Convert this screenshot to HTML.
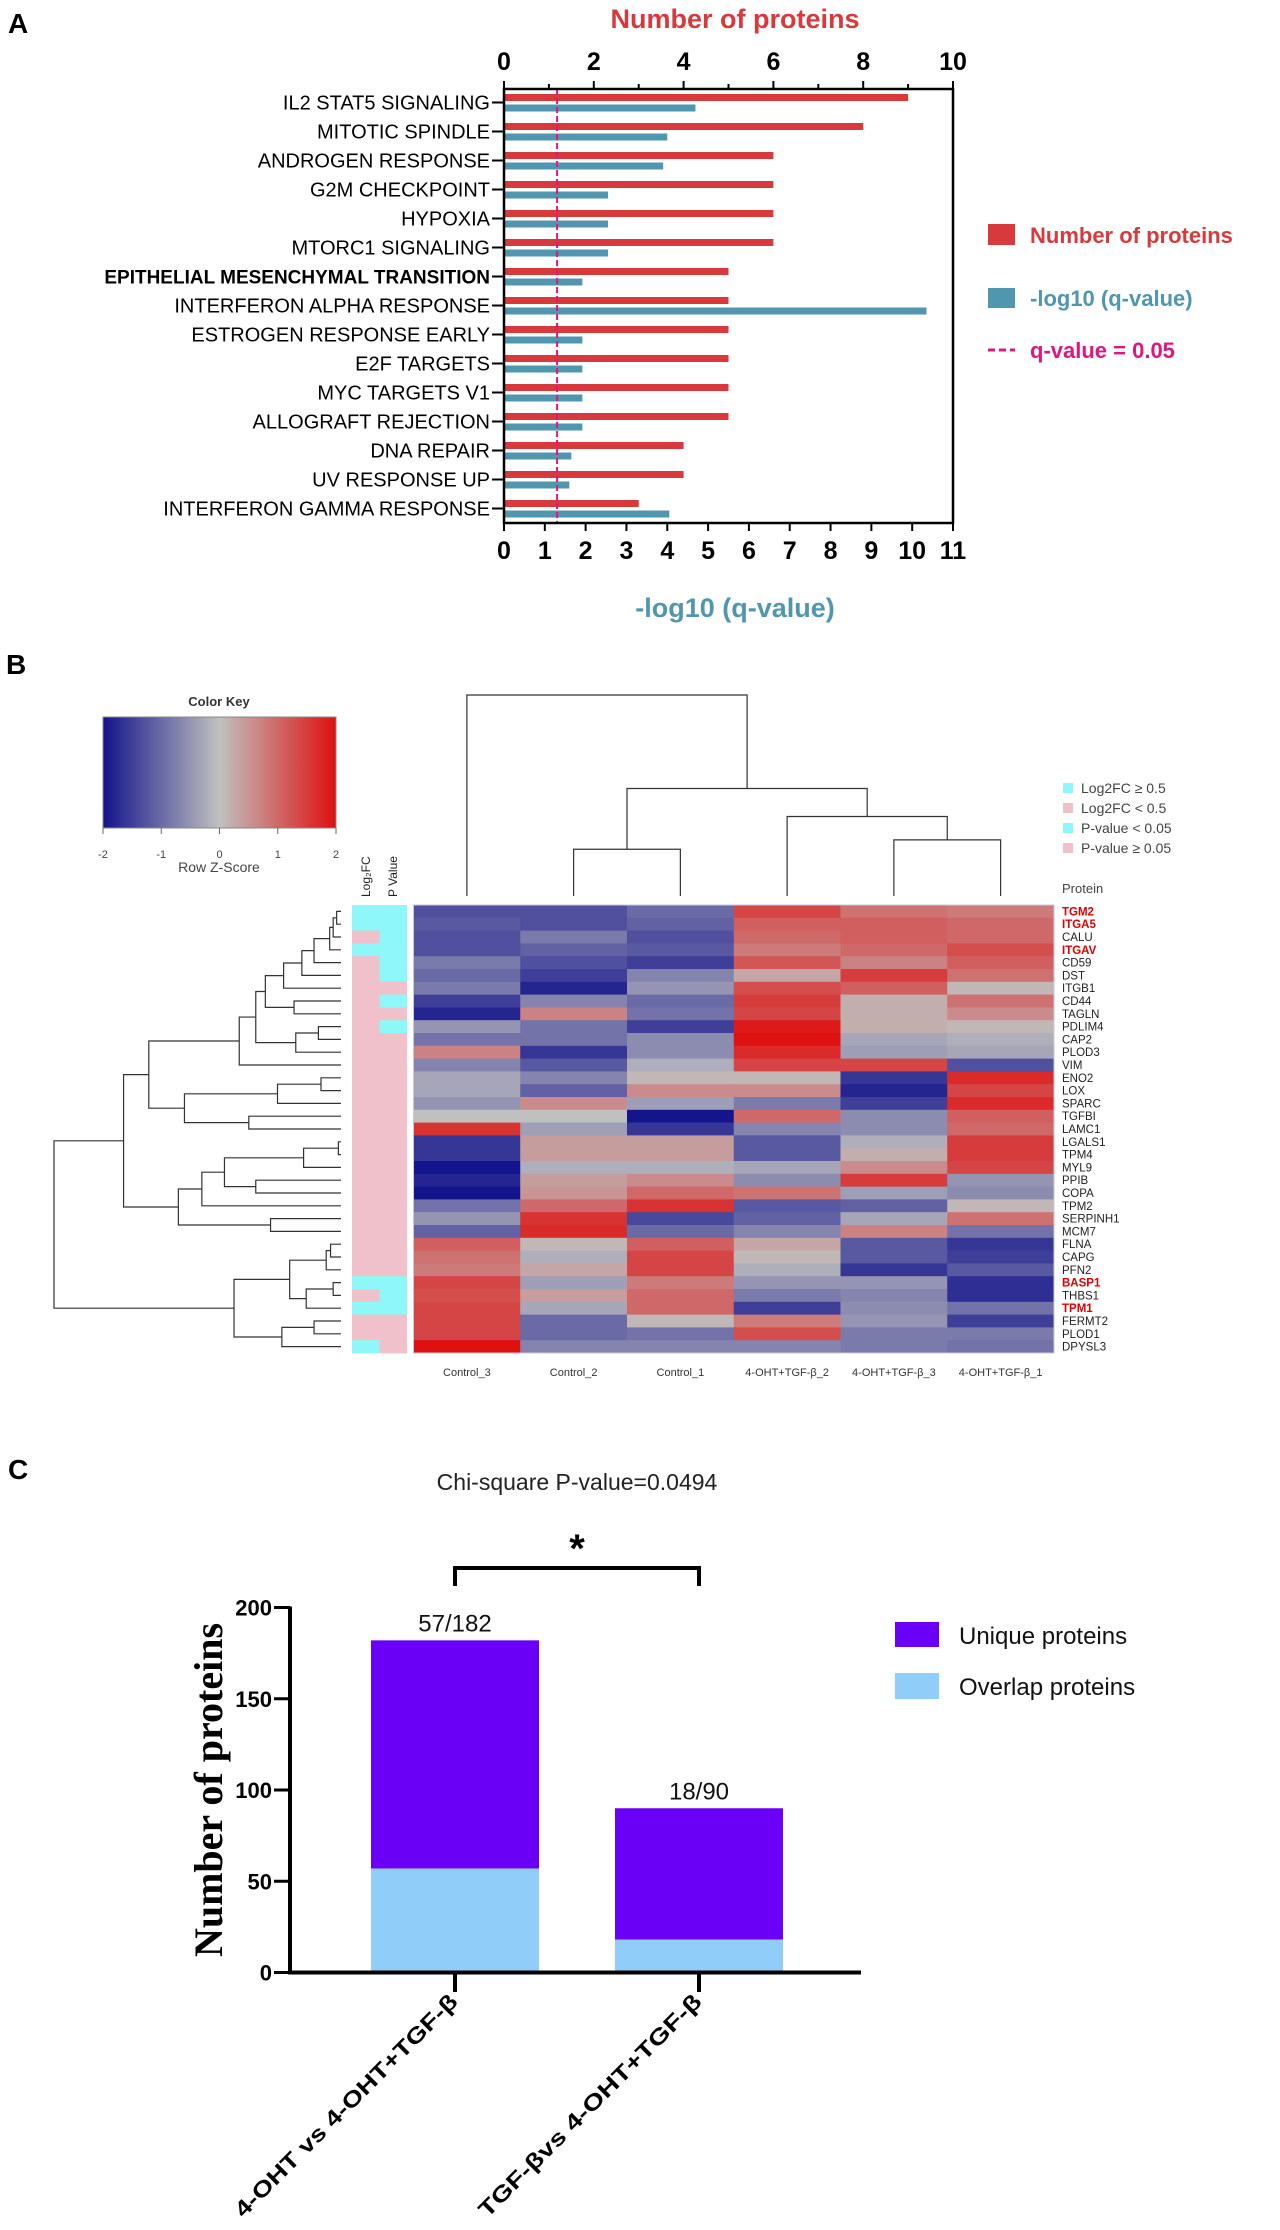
<!DOCTYPE html>
<html><head><meta charset="utf-8">
<style>
html,body{margin:0;padding:0;background:#fff;}
svg{display:block;font-family:"Liberation Sans",Arial,sans-serif;}
</style></head>
<body>
<svg id="fig" width="1280" height="2230" viewBox="0 0 1280 2230" xmlns="http://www.w3.org/2000/svg">
<g id="pA"></g>
<g id="pB"></g>
<g id="pC"></g>
</svg>
<script>
// ---------- Panel A data ----------
const aCategories = ["IL2 STAT5 SIGNALING","MITOTIC SPINDLE","ANDROGEN RESPONSE","G2M CHECKPOINT","HYPOXIA","MTORC1 SIGNALING","EPITHELIAL MESENCHYMAL TRANSITION","INTERFERON ALPHA RESPONSE","ESTROGEN RESPONSE EARLY","E2F TARGETS","MYC TARGETS V1","ALLOGRAFT REJECTION","DNA REPAIR","UV RESPONSE UP","INTERFERON GAMMA RESPONSE"];
const aProteins = [9,8,6,6,6,6,5,5,5,5,5,5,4,4,3];
const aLogQ = [4.69,4.0,3.9,2.55,2.55,2.55,1.92,10.35,1.92,1.92,1.92,1.92,1.65,1.6,4.05];
const aTopTicks = [0,2,4,6,8,10];
const aBottomTicks = [0,1,2,3,4,5,6,7,8,9,10,11];
const aThreshold = 1.30103;

// ---------- Panel B data ----------
const bRows = ["TGM2","ITGA5","CALU","ITGAV","CD59","DST","ITGB1","CD44","TAGLN","PDLIM4","CAP2","PLOD3","VIM","ENO2","LOX","SPARC","TGFBI","LAMC1","LGALS1","TPM4","MYL9","PPIB","COPA","TPM2","SERPINH1","MCM7","FLNA","CAPG","PFN2","BASP1","THBS1","TPM1","FERMT2","PLOD1","DPYSL3"];
const bHighlight = ["TGM2","ITGA5","ITGAV","BASP1","TPM1"];
const bCols = ["Control_3","Control_2","Control_1","4-OHT+TGF-β_2","4-OHT+TGF-β_3","4-OHT+TGF-β_1"];
const bZ = [
[-1.3,-1.3,-1.0,1.4,0.9,0.8],
[-1.2,-1.3,-1.1,1.1,1.1,1.0],
[-1.3,-0.8,-1.3,1.0,1.1,1.0],
[-1.3,-1.1,-1.2,0.8,1.0,1.3],
[-0.8,-1.3,-1.5,1.2,0.7,1.1],
[-1.0,-1.5,-0.7,0.3,1.5,0.9],
[-0.8,-1.8,-0.5,1.3,1.1,0.1],
[-1.5,-0.7,-1.0,1.5,0.2,0.9],
[-1.8,0.7,-0.9,1.4,0.2,0.6],
[-0.5,-0.9,-1.5,1.9,0.2,0.1],
[-0.9,-0.9,-0.6,2.0,-0.3,-0.2],
[0.7,-1.6,-0.6,1.7,-0.4,-0.3],
[-0.7,-1.2,-0.2,1.4,1.4,-1.3],
[-0.3,-0.7,0.1,0.1,-1.6,1.7],
[-0.3,-1.1,0.6,0.6,-1.8,1.4],
[-0.5,0.6,-0.4,-0.8,-1.5,1.7],
[0.0,0.0,-2.0,1.0,-0.6,1.1],
[1.6,-0.4,-1.6,-0.7,-0.6,1.0],
[-1.6,0.4,0.4,-1.2,-0.2,1.5],
[-1.6,0.4,0.4,-1.2,0.2,1.5],
[-2.0,-0.2,-0.2,-0.3,0.6,1.4],
[-1.8,0.4,0.6,-0.6,1.5,-0.5],
[-2.0,0.5,1.0,0.9,-0.4,-0.6],
[-0.9,1.0,1.6,-1.2,-1.1,0.1],
[-0.5,1.6,-1.4,-1.1,-0.3,0.9],
[-1.1,1.7,-1.0,-0.7,0.7,-0.9],
[1.1,0.1,1.1,0.3,-1.2,-1.6],
[0.9,-0.2,1.4,0.1,-1.2,-1.5],
[0.8,0.3,1.4,-0.2,-1.6,-1.2],
[1.4,-0.4,0.8,-0.5,-0.5,-1.7],
[1.3,0.4,1.0,-0.8,-0.7,-1.7],
[1.4,-0.3,1.0,-1.5,-0.6,-0.9],
[1.4,-1.0,0.1,0.8,-0.5,-1.5],
[1.4,-1.0,-0.9,1.3,-0.8,-0.8],
[2.0,-0.7,-0.7,-0.7,-0.8,-0.9]];
const bLogFC = [1,1,0,1,0,0,0,0,0,0,0,0,0,0,0,0,0,0,0,0,0,0,0,0,0,0,0,0,0,1,0,1,0,0,1];
const bPval  = [1,1,1,1,1,1,0,1,0,1,0,0,0,0,0,0,0,0,0,0,0,0,0,0,0,0,0,0,0,1,1,1,0,0,0];
const bKeyTicks = [-2,-1,0,1,2];
// row dendrogram merges: [left, right, height]
const bG1 = [[[[[[[[[0,1,0.5],2,0.9],3,1.3],4,3.1],5,4.5],6,6.6],[7,8,5.4],8.7],[[9,10,2.6],11,5.2],9.8],12,11.7];
const bG2 = [[[13,14,2.3],15,7.3],[16,17,10.6],18];
const bG3 = [[[[[18,19,0.3],20,4.3],[21,22,9.8],13.4],23,16],[24,25,8.1],18.7];
const bG4 = [[[[26,27,1.2],28,1.7],[[29,30,0.9],31,4],5.9],[[32,33,3.1],34,6.8],12.3];
const bRowTree = [[[bG1,bG2,22.1],bG3,25],bG4,33];
const bColTree = [0,[[1,2,1],[3,[4,5,1.2],1.7],2.3],4.3];

// ---------- Panel C data ----------
const cGroups = ["4-OHT vs 4-OHT+TGF-β","TGF-βvs 4-OHT+TGF-β"];
const cOverlap = [57,18];
const cTotal = [182,90];
const cYTicks = [0,50,100,150,200];

const NS="http://www.w3.org/2000/svg";
function mk(parent,tag,attrs,text){const e=document.createElementNS(NS,tag);for(const k in attrs)e.setAttribute(k,attrs[k]);if(text!==undefined)e.textContent=text;parent.appendChild(e);return e;}

// ================= PANEL A =================
(function(){
const g=document.getElementById('pA');
const L=504,R=953,T=89,B=523;
const xTop=v=>L+(R-L)*v/10;
const xBot=v=>L+(R-L)*v/11;
const step=29.0, y0=94;
const RED="#d8393c", TEAL="#4f96ae", MAG="#e0157f";
let t=mk(g,'text',{x:8,y:33,'font-size':28,'font-weight':'bold'},'A');

t=mk(g,'text',{x:735,y:28,'font-size':27,'font-weight':'bold',fill:RED,'text-anchor':'middle'},'Number of proteins');

t=mk(g,'text',{x:735,y:617,'font-size':27,'font-weight':'bold',fill:TEAL,'text-anchor':'middle'},'-log10 (q-value)');

aCategories.forEach((c,i)=>{
  const yr=y0+i*step;
  let r=mk(g,'rect',{x:L,y:yr,width:xTop(aProteins[i])-L,height:7,fill:RED});
  
  r=mk(g,'rect',{x:L,y:yr+10.5,width:xBot(aLogQ[i])-L,height:7,fill:TEAL});
  
  const yc=yr+8.5;
  mk(g,'line',{x1:492,x2:L,y1:yc,y2:yc,stroke:'#000','stroke-width':2});
  const bold=c.startsWith('EPITHELIAL');
  let tx=mk(g,'text',{x:490,y:yc+7,'font-size':bold?19:20,'font-weight':bold?'bold':'normal','text-anchor':'end'},c);
  
});
let ln=mk(g,'line',{x1:xBot(aThreshold),x2:xBot(aThreshold),y1:T,y2:B,stroke:MAG,'stroke-width':2,'stroke-dasharray':'6,3'});

mk(g,'rect',{x:L,y:T,width:R-L,height:B-T,fill:'none',stroke:'#000','stroke-width':2.5});
for(let v=0;v<=10;v++){mk(g,'line',{x1:xTop(v),x2:xTop(v),y1:T,y2:T-(v%2?5:8),stroke:'#000','stroke-width':2});}
aTopTicks.forEach(v=>{let tt=mk(g,'text',{x:xTop(v),y:70,'font-size':25,'font-weight':'bold','text-anchor':'middle'},String(v));});
aBottomTicks.forEach(v=>{mk(g,'line',{x1:xBot(v),x2:xBot(v),y1:B,y2:B+8,stroke:'#000','stroke-width':2});
  let tt=mk(g,'text',{x:xBot(v),y:559,'font-size':25,'font-weight':'bold','text-anchor':'middle'},String(v));});
let lg=mk(g,'g',{});
mk(lg,'rect',{x:988,y:224,width:27,height:21,fill:RED});
mk(lg,'text',{x:1030,y:243,'font-size':22,'font-weight':'bold',fill:RED},'Number of proteins');
mk(lg,'rect',{x:988,y:288,width:27,height:20,fill:TEAL});
mk(lg,'text',{x:1030,y:306,'font-size':22,'font-weight':'bold',fill:TEAL},'-log10 (q-value)');
mk(lg,'line',{x1:988,x2:1015,y1:350,y2:350,stroke:MAG,'stroke-width':3,'stroke-dasharray':'7,4'});
mk(lg,'text',{x:1030,y:358,'font-size':22,'font-weight':'bold',fill:MAG},'q-value = 0.05');
})();

// ================= PANEL B =================
(function(){
const g=document.getElementById('pB');
const HX=413.5,HR=1054,HT=905,HB=1353;
const cw=(HR-HX)/bCols.length, rh=(HB-HT)/bRows.length;
const colX=j=>HX+j*cw, rowY=i=>HT+i*rh;
function zc(z){z=Math.max(-2,Math.min(2,z));let a,b,t;
  const lo=[20,20,140],mid=[192,192,192],hi=[222,16,16];
  if(z<0){a=lo;b=mid;t=(z+2)/2;}else{a=mid;b=hi;t=z/2;}
  return 'rgb('+a.map((v,k)=>Math.round(v+(b[k]-v)*t)).join(',')+')';}
let t=mk(g,'text',{x:6,y:674,'font-size':28,'font-weight':'bold'},'B');

const KL=103,KR=336,KT=717,KB=828;
const kx=v=>KL+(KR-KL)*(v+2)/4;
const defs=mk(g,'defs',{});const gr=mk(defs,'linearGradient',{id:'kg',x1:0,x2:1,y1:0,y2:0});
for(let s=0;s<=8;s++){mk(gr,'stop',{offset:s/8,'stop-color':zc(-2+s*0.5)});}
let kk=mk(g,'rect',{x:KL,y:KT,width:KR-KL,height:KB-KT,fill:'url(#kg)',stroke:'#888','stroke-width':1});

mk(g,'text',{x:219,y:706,'font-size':13,'font-weight':'bold','text-anchor':'middle',fill:'#333'},'Color Key');
bKeyTicks.forEach(v=>{mk(g,'line',{x1:kx(v),x2:kx(v),y1:KB,y2:KB+6,stroke:'#666'});
 let tt=mk(g,'text',{x:kx(v),y:858,'font-size':11,'text-anchor':'middle',fill:'#444'},String(v));});
mk(g,'text',{x:219,y:872,'font-size':14,'text-anchor':'middle',fill:'#444'},'Row Z-Score');
const CY="#8ef7fa",PK="#f0c0cb";
bRows.forEach((r,i)=>{
  let a=mk(g,'rect',{x:352,y:rowY(i),width:27.5,height:rh+0.4,fill:bLogFC[i]?CY:PK});
  
  a=mk(g,'rect',{x:379.5,y:rowY(i),width:27.5,height:rh+0.4,fill:bPval[i]?CY:PK});
  
});
mk(g,'text',{transform:'translate(370,897) rotate(-90)','font-size':12,fill:'#222'},'Log₂FC');
mk(g,'text',{transform:'translate(397,897) rotate(-90)','font-size':12,fill:'#222'},'P Value');
bRows.forEach((r,i)=>{
  bZ[i].forEach((z,j)=>{
    let c=mk(g,'rect',{x:colX(j),y:rowY(i),width:cw+0.4,height:rh+0.4,fill:zc(z)});
    
  });
  const hl=bHighlight.includes(r);
  let tt=mk(g,'text',{x:1062,y:rowY(i)+rh/2+4,'font-size':11.5,'font-weight':hl?'bold':'normal',fill:hl?'#e00000':'#222'},r);
  
});
mk(g,'rect',{x:HX,y:HT,width:HR-HX,height:HB-HT,fill:'none',stroke:'#c8c8d8','stroke-width':1});
bCols.forEach((c,j)=>{let tt=mk(g,'text',{x:colX(j)+cw/2,y:1376,'font-size':11,'text-anchor':'middle',fill:'#333'},c);});
mk(g,'text',{x:1062,y:893,'font-size':13,fill:'#444'},'Protein');
const lgItems=[["Log2FC ≥ 0.5",CY],["Log2FC < 0.5",PK],["P-value < 0.05",CY],["P-value ≥ 0.05",PK]];
lgItems.forEach((it,k)=>{const y=788+k*20;
  let s=mk(g,'rect',{x:1063,y:y-5,width:10,height:10,fill:it[1]});
  let tt=mk(g,'text',{x:1081,y:y+5,'font-size':14,fill:'#444'},it[0]);});
const leafX=341, maxH=33, rootX=54;
const hx=h=>leafX-(leafX-rootX)*h/maxH;
function drawRow(node){
  if(typeof node==='number') return {y:rowY(node)+rh/2,x:leafX};
  const a=drawRow(node[0]),b=drawRow(node[1]);
  const x=hx(node[2]);
  const p=mk(g,'path',{d:`M${a.x},${a.y}H${x}V${b.y}H${b.x}`,fill:'none',stroke:'#333','stroke-width':1.2});
  
  return {x:x,y:(a.y+b.y)/2};
}
drawRow(bRowTree);
const leafY=896, colMax=4.3, topY=695;
const hy=h=>leafY-(leafY-topY)*h/colMax;
function drawCol(node){
  if(typeof node==='number') return {x:colX(node)+cw/2,y:leafY};
  const a=drawCol(node[0]),b=drawCol(node[1]);const y=hy(node[2]);
  const p=mk(g,'path',{d:`M${a.x},${a.y}V${y}H${b.x}V${b.y}`,fill:'none',stroke:'#333','stroke-width':1.2});
  
  return {x:(a.x+b.x)/2,y:y};
}
drawCol(bColTree);
})();

// ================= PANEL C =================
(function(){
const g=document.getElementById('pC');
const AX=290,Y0=1972.5,Y200=1607.5,AR=861;
const y=v=>Y0-(Y0-Y200)*v/200;
const centers=[455,699], bw=168;
const PUR="#6a00f5", LB="#90cdf9";
let t=mk(g,'text',{x:8,y:1479,'font-size':28,'font-weight':'bold'},'C');

t=mk(g,'text',{x:577,y:1490,'font-size':23,'text-anchor':'middle',fill:'#222'},'Chi-square P-value=0.0494');

cGroups.forEach((gname,i)=>{
  const cx=centers[i];
  let r=mk(g,'rect',{x:cx-bw/2,y:y(cTotal[i]),width:bw,height:y(cOverlap[i])-y(cTotal[i]),fill:PUR});
  
  r=mk(g,'rect',{x:cx-bw/2,y:y(cOverlap[i]),width:bw,height:Y0-y(cOverlap[i]),fill:LB});
  
  let tt=mk(g,'text',{x:cx,y:y(cTotal[i])-9,'font-size':24,'text-anchor':'middle',fill:'#111'},cOverlap[i]+'/'+cTotal[i]);
  
  mk(g,'line',{x1:cx,x2:cx,y1:Y0,y2:1992,stroke:'#000','stroke-width':4});
  tt=mk(g,'text',{transform:`translate(${cx+4},2003) rotate(-45)`,'font-size':22,'font-weight':'bold','text-anchor':'end',textLength:305,lengthAdjust:'spacingAndGlyphs'},gname);
  
});
mk(g,'line',{x1:AX,x2:AX,y1:Y200-1,y2:Y0+2,stroke:'#000','stroke-width':4});
mk(g,'line',{x1:AX-2,x2:AR,y1:Y0,y2:Y0,stroke:'#000','stroke-width':4});
cYTicks.forEach(v=>{mk(g,'line',{x1:AX-16,x2:AX,y1:y(v),y2:y(v),stroke:'#000','stroke-width':3});
  let tt=mk(g,'text',{x:AX-18,y:y(v)+8,'font-size':22,'font-weight':'bold','text-anchor':'end'},String(v));});
t=mk(g,'text',{transform:'translate(222,1790) rotate(-90)','font-size':40,'font-weight':'bold','text-anchor':'middle','font-family':'"Liberation Serif",serif'},'Number of proteins');

let br=mk(g,'path',{d:`M${centers[0]},1586V1568H${centers[1]}V1586`,fill:'none',stroke:'#000','stroke-width':4});

t=mk(g,'text',{x:577,y:1562,'font-size':40,'font-weight':'bold','text-anchor':'middle'},'*');

let lg=mk(g,'g',{});
mk(lg,'rect',{x:895,y:1622,width:44,height:25,fill:PUR});
mk(lg,'text',{x:959,y:1644,'font-size':24,fill:'#111'},'Unique proteins');
mk(lg,'rect',{x:895,y:1673,width:44,height:26,fill:LB});
mk(lg,'text',{x:959,y:1695,'font-size':24,fill:'#111'},'Overlap proteins');
})();
</script>
</body></html>
